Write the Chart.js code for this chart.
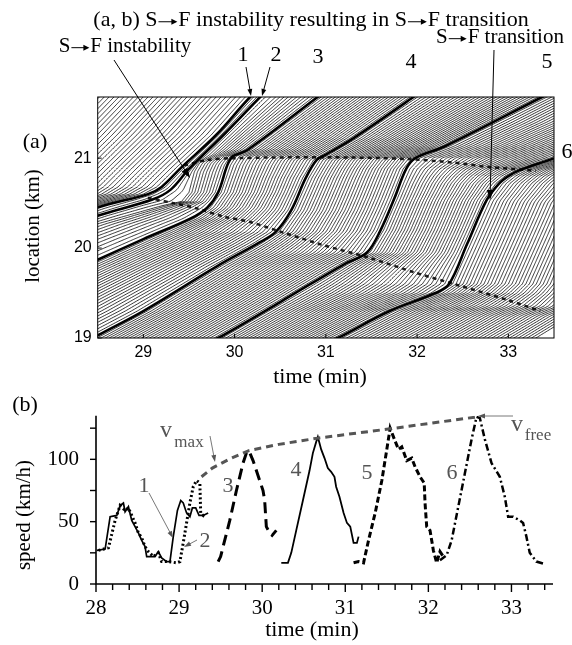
<!DOCTYPE html>
<html>
<head>
<meta charset="utf-8">
<script src="https://cdn.jsdelivr.net/npm/chart.js@4.4.1/dist/chart.umd.min.js"></script>
<style>
  html, body { margin: 0; padding: 0; background: #fff; }
  #wrap { position: relative; width: 572px; height: 645px; }
  #wrap canvas { position: absolute; left: 0; top: 0; }
</style>
</head>
<body>
<div id="wrap">
  <canvas id="chartA" width="572" height="645"></canvas>
  <canvas id="chartB" width="572" height="645"></canvas>
</div>
<script>
const SERIF = '"Liberation Serif", "Times New Roman", serif';
const SANS = '"Liberation Sans", Arial, sans-serif';

// ---- panel (a): vehicle trajectories, points are [time (min), location (km)]
const trajStart = [[25.5, 19.75], [27.2, 20.42], [28.45, 21.72]];
const traj1 = [[27.0, 19.9], [28.5, 20.45], [29.05, 20.6], [29.2, 20.68], [29.42, 20.9], [29.8, 21.26], [30.17, 21.68], [30.5, 22.0]];
const traj2 = [[27.0, 19.82], [28.5, 20.36], [29.1, 20.54], [29.3, 20.65], [29.5, 20.88], [29.9, 21.28], [30.3, 21.7], [30.6, 22.0]];
const trajGap = [[27.0, 19.75], [28.5, 20.27], [29.2, 20.47], [29.42, 20.52], [29.5, 20.62], [29.56, 20.85], [29.62, 20.95], [29.75, 21.03], [30.45, 21.68], [30.8, 22.0]];
const traj3 = [[27.0, 19.2], [28.5, 19.87], [29.0, 20.1], [29.52, 20.33], [29.7, 20.45], [29.82, 20.62], [29.92, 20.92], [29.98, 21.02], [30.14, 21.09], [30.91, 21.68], [31.3, 21.98]];
const traj4 = [[27.8, 18.6], [28.45, 19.0], [29.0, 19.3], [29.81, 19.8], [30.25, 20.05], [30.45, 20.18], [30.62, 20.42], [30.78, 20.78], [30.9, 20.98], [31.0, 21.04], [31.3, 21.22], [31.96, 21.68], [32.4, 22.0]];
const traj5 = [[29.0, 18.55], [29.82, 19.0], [30.5, 19.4], [31.2, 19.82], [31.45, 19.95], [31.6, 20.2], [31.75, 20.55], [31.88, 20.88], [31.98, 21.0], [32.3, 21.13], [33.37, 21.68], [34.0, 22.0]];
const traj6 = [[30.3, 18.6], [31.13, 19.0], [31.7, 19.3], [32.2, 19.5], [32.35, 19.6], [32.55, 20.05], [32.76, 20.53], [32.9, 20.72], [33.0, 20.8], [33.13, 20.87], [33.5, 21.0], [34.5, 21.4], [35.5, 21.95]];
const trajEnd = [[32.5, 18.6], [33.35, 19.0], [33.75, 19.25], [34.0, 19.35], [34.5, 20.5], [35.0, 21.0], [36.5, 21.95]];

// number of thin trajectories seen between two neighbouring key trajectories
const keyTrajs = [trajStart, traj1, traj2, trajGap, traj3, traj4, traj5, traj6, trajEnd];
const thinCounts = [32, 2, 2, 9, 26, 30, 30, 45];
const boldTrajs = [traj1, traj2, traj3, traj4, traj5, traj6];

// dashed fronts
const upperFront = [[29.45, 20.92], [29.7, 20.98], [30.0, 21.0], [31.0, 21.01], [31.9, 20.99], [32.4, 20.95], [32.8, 20.9], [33.3, 20.86]];
const lowerFront = [[29.05, 20.56], [29.33, 20.5], [29.59, 20.44], [29.88, 20.35], [30.17, 20.29], [30.54, 20.17], [30.98, 20.03], [31.45, 19.9], [32.0, 19.72], [32.44, 19.59], [33.0, 19.42], [33.35, 19.3]];

const aTimeTicks = [29, 30, 31, 32, 33];
const aLocTicks = [19, 20, 21];

// ---- panel (b): speed (km/h) vs time (min)
const speed1 = [[28.01, 27], [28.11, 28], [28.17, 54], [28.25, 55], [28.29, 63], [28.33, 65], [28.35, 58], [28.39, 62], [28.43, 51], [28.47, 46], [28.51, 41], [28.55, 35], [28.59, 30], [28.61, 22], [28.71, 22], [28.75, 26], [28.79, 21], [28.85, 18], [28.89, 18], [28.93, 38], [28.98, 59], [29.02, 67], [29.05, 65], [29.09, 57], [29.13, 54], [29.16, 61], [29.2, 61], [29.24, 55], [29.29, 55], [29.35, 57]];
const speed2 = [[28.03, 27], [28.15, 29], [28.23, 51], [28.29, 63], [28.35, 59], [28.39, 61], [28.43, 55], [28.47, 49], [28.51, 41], [28.55, 37], [28.59, 30], [28.63, 26], [28.69, 22], [28.75, 25], [28.79, 18], [28.87, 18], [28.97, 17], [29.01, 18], [29.05, 33], [29.09, 49], [29.13, 65], [29.17, 78], [29.21, 83], [29.25, 81], [29.26, 57], [29.29, 55], [29.31, 57]];
const speed3 = [[29.47, 18], [29.5, 22], [29.53, 30], [29.61, 51], [29.69, 75], [29.77, 97], [29.81, 105], [29.84, 107], [29.89, 99], [29.93, 91], [29.97, 83], [30.01, 75], [30.03, 67], [30.05, 46], [30.09, 41], [30.12, 39], [30.17, 43]];
const speed4 = [[30.23, 17], [30.31, 17], [30.35, 25], [30.41, 43], [30.49, 67], [30.57, 91], [30.61, 105], [30.65, 114], [30.67, 118], [30.71, 108], [30.75, 101], [30.79, 93], [30.83, 90], [30.87, 86], [30.89, 78], [30.93, 70], [30.98, 57], [31.02, 49], [31.06, 46], [31.1, 33], [31.14, 33], [31.16, 38]];
const speed5 = [[31.1, 17], [31.16, 18], [31.22, 17], [31.28, 35], [31.36, 57], [31.44, 83], [31.5, 108], [31.54, 125], [31.58, 118], [31.64, 108], [31.68, 110], [31.74, 99], [31.8, 101], [31.84, 94], [31.9, 86], [31.95, 81], [31.96, 65], [31.98, 46], [32.02, 43], [32.06, 27], [32.1, 17], [32.14, 26], [32.18, 22]];
const speed6 = [[32.14, 19], [32.22, 23], [32.28, 35], [32.36, 62], [32.44, 89], [32.52, 116], [32.58, 134], [32.62, 133], [32.68, 116], [32.76, 97], [32.86, 86], [32.92, 70], [32.96, 54], [33.02, 54], [33.1, 51], [33.14, 49], [33.18, 38], [33.22, 25], [33.3, 18], [33.4, 16]];
const vmaxLine = [[29.27, 86], [29.4, 93], [29.6, 100], [29.84, 107], [30.2, 112], [30.67, 117], [31.54, 124.5], [32.58, 134]];

const bTimeTicks = [28, 29, 30, 31, 32, 33];
const bSpeedTicks = [0, 25, 50, 75, 100, 125];

// ---------------------------------------------------------------
function timeAt(g, loc) {
  let i = 0;
  while (i < g.length - 2 && loc > g[i + 1][1]) i++;
  const [t0, l0] = g[i], [t1, l1] = g[i + 1];
  return t0 + (loc - l0) * (t1 - t0) / (l1 - l0);
}
const locSamples = [];
for (let v = 18.4; v <= 22.0; v += 0.02) locSamples.push(v);

const toXY = arr => arr.map(p => ({ x: p[0], y: p[1] }));

const aDatasets = [];
keyTrajs.forEach((g, k) => {
  if (k < keyTrajs.length - 1) {
    const h = keyTrajs[k + 1], n = thinCounts[k];
    for (let j = 0; j <= n; j++) {
      if (j === 0 && boldTrajs.includes(g)) continue;
      const f = j / (n + 1);
      aDatasets.push({
        data: locSamples.map(l => ({ x: (1 - f) * timeAt(g, l) + f * timeAt(h, l), y: l })),
        borderColor: '#000', borderWidth: 0.8, tension: 0.2
      });
    }
  }
});
boldTrajs.forEach(g => {
  aDatasets.push({ data: toXY(g), borderColor: '#000', borderWidth: 2.6, tension: 0.35 });
});
[upperFront, lowerFront].forEach(f => {
  aDatasets.push({ data: toXY(f), borderColor: '#222', borderWidth: 2.5, borderDash: [4, 4], tension: 0.3 });
});
aDatasets.forEach(d => { d.showLine = true; d.pointRadius = 0; d.fill = false; });

function arrow(ctx, x1, y1, x2, y2, head, color, width) {
  const a = Math.atan2(y2 - y1, x2 - x1);
  ctx.strokeStyle = color; ctx.fillStyle = color; ctx.lineWidth = width;
  ctx.beginPath(); ctx.moveTo(x1, y1);
  ctx.lineTo(x2 - head * 0.8 * Math.cos(a), y2 - head * 0.8 * Math.sin(a)); ctx.stroke();
  ctx.beginPath(); ctx.moveTo(x2, y2);
  ctx.lineTo(x2 - head * Math.cos(a) + head * 0.35 * Math.sin(a), y2 - head * Math.sin(a) - head * 0.35 * Math.cos(a));
  ctx.lineTo(x2 - head * Math.cos(a) - head * 0.35 * Math.sin(a), y2 - head * Math.sin(a) + head * 0.35 * Math.cos(a));
  ctx.closePath(); ctx.fill();
}
function text(ctx, s, x, y, size, color, font) {
  ctx.font = size + 'px ' + (font || SERIF);
  ctx.fillStyle = color || '#000';
  ctx.textAlign = 'center'; ctx.textBaseline = 'middle';
  ctx.fillText(s, x, y);
}
// text with a thin full-width arrow sign drawn in place of the arrow glyph
function arrowText(ctx, s, x, y, size) {
  const parts = s.split('\u2192');
  const aw = size * 0.95;
  ctx.font = size + 'px ' + SERIF;
  let w = 0;
  parts.forEach((p, i) => { w += ctx.measureText(p).width + (i > 0 ? aw : 0); });
  let cx = x - w / 2;
  ctx.fillStyle = '#000'; ctx.strokeStyle = '#000';
  ctx.textAlign = 'left'; ctx.textBaseline = 'middle';
  parts.forEach((p, i) => {
    if (i > 0) {
      const ay = y + size * 0.08;
      ctx.lineWidth = 1;
      ctx.beginPath(); ctx.moveTo(cx + 1, ay); ctx.lineTo(cx + aw - 3, ay); ctx.stroke();
      ctx.beginPath(); ctx.moveTo(cx + aw - 1, ay);
      ctx.lineTo(cx + aw - 7, ay - 3); ctx.lineTo(cx + aw - 7, ay + 3); ctx.closePath(); ctx.fill();
      cx += aw;
    }
    ctx.fillText(p, cx, y);
    cx += ctx.measureText(p).width;
  });
}

const panelAOverlay = {
  id: 'panelAOverlay',
  afterDraw(chart) {
    const { ctx, chartArea: ca, scales } = chart;
    ctx.save();
    ctx.strokeStyle = '#000'; ctx.lineWidth = 1;
    ctx.strokeRect(ca.left, ca.top, ca.right - ca.left, ca.bottom - ca.top);
    aTimeTicks.forEach(v => {
      const x = scales.x.getPixelForValue(v);
      ctx.beginPath(); ctx.moveTo(x, ca.bottom); ctx.lineTo(x, ca.bottom - 4); ctx.stroke();
    });
    aLocTicks.forEach(v => {
      const y = scales.y.getPixelForValue(v);
      ctx.beginPath(); ctx.moveTo(ca.left, y); ctx.lineTo(ca.left + 4, y); ctx.stroke();
    });
    arrowText(ctx, '(a, b) S\u2192F instability resulting in S\u2192F transition', 311, 20, 22);
    arrowText(ctx, 'S\u2192F instability', 125, 46, 21);
    arrowText(ctx, 'S\u2192F transition', 500, 37, 21);
    text(ctx, '1', 243, 55, 22); text(ctx, '2', 276, 55, 22);
    text(ctx, '3', 318, 57, 22); text(ctx, '4', 411, 62, 22);
    text(ctx, '5', 547, 62, 22); text(ctx, '6', 567, 152, 22);
    text(ctx, '(a)', 35, 142, 22);
    text(ctx, 'time (min)', 320, 377, 22);
    ctx.save(); ctx.translate(33, 226); ctx.rotate(-Math.PI / 2);
    text(ctx, 'location (km)', 0, 0, 21); ctx.restore();
    arrow(ctx, 114, 60, 190, 178, 10, '#000', 1);
    arrow(ctx, 494, 50, 490, 200, 10, '#000', 1);
    arrow(ctx, 246, 67, 251, 96, 7, '#000', 1);
    arrow(ctx, 270, 67, 262, 96, 7, '#000', 1);
    ctx.restore();
  }
};

new Chart(document.getElementById('chartA'), {
  type: 'scatter',
  data: { datasets: aDatasets },
  options: {
    responsive: false, animation: false, events: [],
    layout: { padding: { left: 0, top: 97, right: 18, bottom: 255 } },
    plugins: { legend: { display: false }, tooltip: { enabled: false } },
    scales: {
      x: {
        type: 'linear', min: 28.5, max: 33.5,
        grid: { display: false, drawTicks: false }, border: { display: false },
        afterBuildTicks: s => { s.ticks = aTimeTicks.map(v => ({ value: v })); },
        afterFit: s => { s.height = 52; },
        ticks: { color: '#000', font: { family: SANS, size: 16 }, padding: 5, maxRotation: 0 }
      },
      y: {
        type: 'linear', min: 19, max: 21.68,
        grid: { display: false, drawTicks: false }, border: { display: false },
        afterBuildTicks: s => { s.ticks = aLocTicks.map(v => ({ value: v })); },
        afterFit: s => { s.width = 97.7; },
        ticks: { color: '#000', font: { family: SANS, size: 16 }, padding: 6 }
      }
    }
  },
  plugins: [panelAOverlay]
});

// ---- panel (b)
const bDatasets = [
  { data: toXY(vmaxLine), borderColor: '#555', borderWidth: 3, borderDash: [7, 5] },
  { data: toXY(speed1), borderColor: '#000', borderWidth: 1.7 },
  { data: toXY(speed2), borderColor: '#000', borderWidth: 3, borderDash: [2, 2.5] },
  { data: toXY(speed3), borderColor: '#000', borderWidth: 3, borderDash: [11, 6] },
  { data: toXY(speed4), borderColor: '#000', borderWidth: 1.8 },
  { data: toXY(speed5), borderColor: '#000', borderWidth: 3, borderDash: [6, 3] },
  { data: toXY(speed6), borderColor: '#000', borderWidth: 2.5, borderDash: [7, 3, 2, 3] }
];
bDatasets.forEach(d => { d.showLine = true; d.pointRadius = 0; d.fill = false; d.tension = 0; });

const panelBOverlay = {
  id: 'panelBOverlay',
  afterDraw(chart) {
    const { ctx, chartArea: ca, scales } = chart;
    ctx.save();
    ctx.strokeStyle = '#000'; ctx.lineWidth = 1.6;
    ctx.beginPath(); ctx.moveTo(ca.left, ca.top); ctx.lineTo(ca.left, ca.bottom); ctx.lineTo(ca.right, ca.bottom); ctx.stroke();
    ctx.lineWidth = 1.4;
    for (let v = bTimeTicks[0]; v <= 33.41; v += 0.2) {
      const x = scales.x.getPixelForValue(v);
      const major = Math.abs(v - Math.round(v)) < 0.01;
      ctx.beginPath(); ctx.moveTo(x, ca.bottom); ctx.lineTo(x, ca.bottom + (major ? 8 : 6)); ctx.stroke();
    }
    bSpeedTicks.forEach(v => {
      const y = scales.y.getPixelForValue(v);
      ctx.beginPath(); ctx.moveTo(ca.left, y); ctx.lineTo(ca.left - 6, y); ctx.stroke();
    });
    const g = '#555';
    text(ctx, '(b)', 25, 405, 22);
    text(ctx, 'time (min)', 312, 630, 22);
    ctx.save(); ctx.translate(24, 515); ctx.rotate(-Math.PI / 2);
    text(ctx, 'speed (km/h)', 0, 0, 21); ctx.restore();
    text(ctx, '1', 144, 486, 22, g); text(ctx, '2', 205, 541, 22, g);
    text(ctx, '3', 228, 486, 22, g); text(ctx, '4', 296, 470, 22, g);
    text(ctx, '5', 367, 473, 22, g); text(ctx, '6', 452, 473, 22, g);
    text(ctx, 'v', 166, 431, 24, g); text(ctx, 'max', 189, 443, 17, g);
    text(ctx, 'v', 517, 425, 24, g); text(ctx, 'free', 538, 436, 17, g);
    arrow(ctx, 149, 493, 173, 538, 7, g, 0.8);
    arrow(ctx, 197, 540, 184, 547, 7, g, 0.8);
    arrow(ctx, 210, 436, 215, 462, 7, g, 0.8);
    arrow(ctx, 513, 416, 478, 416, 7, g, 0.8);
    ctx.restore();
  }
};

new Chart(document.getElementById('chartB'), {
  type: 'scatter',
  data: { datasets: bDatasets },
  options: {
    responsive: false, animation: false, events: [],
    layout: { padding: { left: 0, top: 415.7, right: 19, bottom: 0 } },
    plugins: { legend: { display: false }, tooltip: { enabled: false } },
    scales: {
      x: {
        type: 'linear', min: 28, max: 33.5,
        grid: { display: false, drawTicks: false }, border: { display: false },
        afterBuildTicks: s => { s.ticks = bTimeTicks.map(v => ({ value: v })); },
        afterFit: s => { s.height = 61; },
        ticks: { color: '#000', font: { family: SERIF, size: 21 }, padding: 12, maxRotation: 0 }
      },
      y: {
        type: 'linear', min: 0, max: 135,
        grid: { display: false, drawTicks: false }, border: { display: false },
        afterBuildTicks: s => { s.ticks = [0, 50, 100].map(v => ({ value: v })); },
        afterFit: s => { s.width = 96; },
        ticks: { color: '#000', font: { family: SERIF, size: 21 }, padding: 17 }
      }
    }
  },
  plugins: [panelBOverlay]
});
</script>
</body>
</html>
